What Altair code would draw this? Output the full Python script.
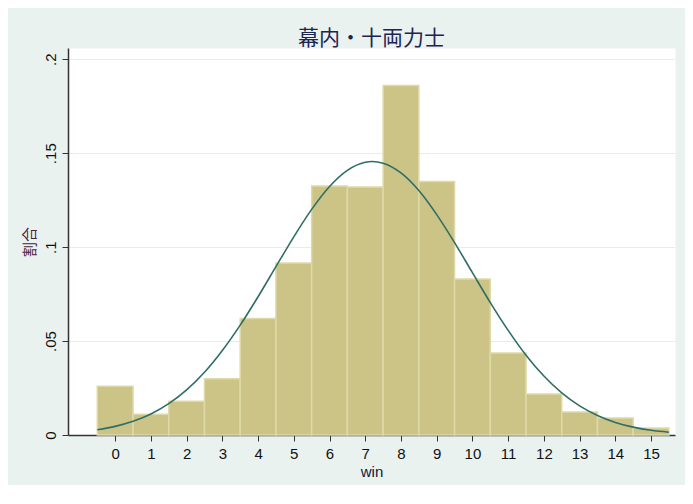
import altair as alt
import pandas as pd

# Histogram data
wins = list(range(16))
shares = [0.026, 0.011, 0.018, 0.030, 0.062, 0.0915, 0.1325, 0.132,
          0.186, 0.135, 0.083, 0.0436, 0.0218, 0.0122, 0.009, 0.0037]

# Overlay curve points
curve_x = [-0.5, 0, 0.5, 1, 1.5, 2, 2.5, 3, 3.5, 4, 4.5, 5, 5.5, 6, 6.5, 7,
           7.2, 7.5, 8, 8.5, 9, 9.5, 10, 10.5, 11, 11.5, 12, 12.5, 13, 13.5,
           14, 14.5, 15, 15.5]
curve_y = [0.0028, 0.0046, 0.0073, 0.0112, 0.0167, 0.0240, 0.0334, 0.0450,
           0.0585, 0.0736, 0.0896, 0.1055, 0.1201, 0.1323, 0.1409, 0.1452,
           0.1456, 0.1447, 0.1395, 0.1301, 0.1173, 0.1024, 0.0864, 0.0705,
           0.0557, 0.0425, 0.0314, 0.0224, 0.0155, 0.0104, 0.0067, 0.0042,
           0.0025, 0.0015]

x_ticks = list(range(16))
y_ticks = [0, 0.05, 0.1, 0.15, 0.2]

bars = pd.DataFrame({"win": wins, "share": shares})
bars["lo"] = bars["win"] - 0.5
bars["hi"] = bars["win"] + 0.5
bars["base"] = 0.0
curve = pd.DataFrame({"x": curve_x, "y": curve_y})

xscale = alt.Scale(domain=[-1.32, 15.67], nice=False, zero=False)
yscale = alt.Scale(domain=[0, 0.206], nice=False, zero=False)

FONT = "Liberation Sans"

bar_layer = alt.Chart(bars).mark_bar(
    fill="#CCC486", stroke="#DEDAA8", strokeWidth=1.5
).encode(
    x=alt.X("lo:Q", scale=xscale,
            axis=alt.Axis(values=x_ticks, title="win", grid=False,
                          labelFontSize=15, titleFontSize=15,
                          tickSize=6, labelPadding=5, titlePadding=3,
                          domainColor="#333333", tickColor="#333333",
                          domainWidth=1.5, labelColor="#111111",
                          titleColor="#0a1a3a", titleFontWeight="normal",
                          labelFont=FONT, titleFont=FONT)),
    x2="hi:Q",
    y=alt.Y("share:Q", scale=yscale,
            axis=alt.Axis(values=y_ticks, title="割合", grid=True,
                          gridColor="#E4EEEC", gridWidth=1,
                          labelExpr="datum.value == 0 ? '0' : substring(format(datum.value, '~g'), 1)",
                          labelAngle=270, labelAlign="center", labelBaseline="bottom",
                          labelFontSize=15, titleFontSize=15,
                          tickSize=6, labelPadding=4, titlePadding=6,
                          domainColor="#333333", tickColor="#333333",
                          domainWidth=1.5, labelColor="#111111",
                          titleColor="#4a2238", titleFontWeight="normal",
                          labelFont=FONT, titleFont="Noto Sans CJK JP")),
    y2="base:Q",
)

line_layer = alt.Chart(curve).mark_line(
    color="#2F6E66", strokeWidth=1.6, interpolate="monotone"
).encode(
    x=alt.X("x:Q", scale=xscale),
    y=alt.Y("y:Q", scale=yscale),
)

chart = alt.layer(bar_layer, line_layer).properties(
    width=607,
    height=387,
    title=alt.TitleParams("幕内・十両力士", font="Noto Sans CJK JP", fontSize=21,
                          fontWeight="normal", color="#1a2550", anchor="middle",
                          offset=-1),
    autosize=alt.AutoSizeParams(type="none"),
    padding={"left": 60, "top": 40, "right": 10, "bottom": 50},
    background="#EAF2F0",
).configure_view(fill="white", stroke="transparent")

chart.save("out.html", embed_options={"renderer": "svg", "actions": False})
